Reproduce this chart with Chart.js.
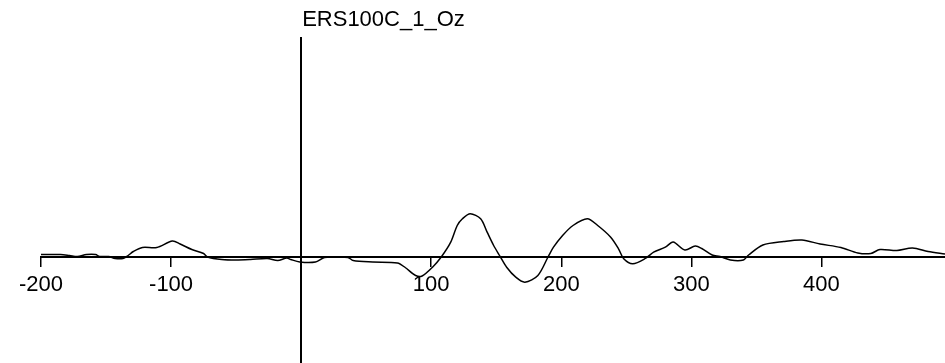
<!DOCTYPE html>
<html>
<head>
    <title>ERS100C_1_Oz</title>
    <script src="https://cdn.jsdelivr.net/npm/chart.js"></script>
    <style>
        body {
            margin: 0;
            background-color: #ffffff;
        }
        canvas {
            display: block;
        }
    </style>
</head>
<body>
    <canvas id="chart" width="945" height="363"></canvas>
    <script>
        const channelName = 'ERS100C_1_Oz';

        // time in ms, amplitude
        const times = [-200, -185, -178, -172, -165, -158, -155, -148, -143, -137, -133, -129, -122, -111, -99, -93,
            -84, -75, -72, -61, -50, -39, -26, -18, -11, -8, -1, 11, 18, 36, 40, 55, 74, 80, 88, 93, 101, 108,
            115, 120, 124, 130, 138, 143, 148, 153, 158, 165, 172, 182, 190, 194, 201, 209, 220, 228, 238, 244,
            248, 255, 265, 271, 280, 286, 295, 303, 308, 316, 322, 330, 340, 344, 355, 371, 385, 399, 415, 428,
            438, 445, 458, 470, 482, 495];
        const amplitude = [0.2, 0.2, 0.1, 0.0, 0.2, 0.2, 0.0, 0.0, -0.2, -0.2, 0.1, 0.5, 0.9, 0.9, 1.55, 1.25,
            0.7, 0.3, -0.05, -0.3, -0.35, -0.3, -0.2, -0.4, -0.15, -0.3, -0.55, -0.55, -0.1, -0.1, -0.4, -0.55,
            -0.65, -1.1, -1.9, -1.95, -1.07, 0.0, 1.43, 3.1, 3.77, 4.27, 3.77, 2.43, 1.1, 0.0, -1.07, -2.07,
            -2.57, -1.9, 0.0, 0.93, 2.1, 3.1, 3.77, 3.1, 1.93, 0.77, -0.23, -0.73, -0.17, 0.43, 0.93, 1.45, 0.65,
            1.05, 0.8, 0.15, 0.0, -0.35, -0.35, 0.15, 1.15, 1.5, 1.65, 1.25, 0.9, 0.35, 0.3, 0.7, 0.6, 0.85,
            0.5, 0.25];
        const tickValues = [-200, -100, 0, 100, 200, 300, 400];
        const hiddenTickLabels = [0];

        const points = times.map((t, i) => ({ x: t, y: amplitude[i] }));

        // channel name written just right of the vertical axis, above it
        const channelLabel = {
            id: 'channelLabel',
            afterDraw(chart) {
                const ctx = chart.ctx;
                const x = chart.scales.x.getPixelForValue(0);
                ctx.save();
                ctx.fillStyle = '#000';
                ctx.font = '22px Arial, "Liberation Sans", sans-serif';
                ctx.textBaseline = 'top';
                ctx.textAlign = 'left';
                ctx.fillText(channelName, x + 1, 9);
                ctx.restore();
            }
        };

        const ctx = document.getElementById('chart').getContext('2d');
        new Chart(ctx, {
            type: 'line',
            data: {
                datasets: [{
                    label: channelName,
                    data: points,
                    borderColor: '#000',
                    borderWidth: 1.5,
                    pointRadius: 0,
                    fill: false,
                    tension: 0.3
                }]
            },
            options: {
                responsive: false,
                animation: false,
                layout: {
                    padding: { top: 38, left: 41, right: 0, bottom: 0 }
                },
                plugins: {
                    legend: { display: false },
                    tooltip: { enabled: false }
                },
                scales: {
                    x: {
                        type: 'linear',
                        min: -200,
                        max: 495,
                        position: { y: 0 },
                        afterBuildTicks: scale => {
                            scale.ticks = tickValues.map(v => ({ value: v }));
                        },
                        border: { display: true, color: '#000', width: 2 },
                        grid: {
                            drawOnChartArea: false,
                            drawTicks: true,
                            tickLength: 9,
                            color: '#000',
                            lineWidth: 1.5
                        },
                        ticks: {
                            maxRotation: 0,
                            autoSkip: false,
                            padding: 6,
                            color: '#000',
                            font: { family: 'Arial, "Liberation Sans", sans-serif', size: 22 },
                            callback: v => hiddenTickLabels.includes(v) ? '' : v
                        }
                    },
                    y: {
                        type: 'linear',
                        min: -10.65,
                        max: 21.85,
                        position: { x: 0 },
                        border: { display: true, color: '#000', width: 2 },
                        grid: { drawOnChartArea: false, drawTicks: false },
                        ticks: { display: false }
                    }
                }
            },
            plugins: [channelLabel]
        });
    </script>
</body>
</html>
